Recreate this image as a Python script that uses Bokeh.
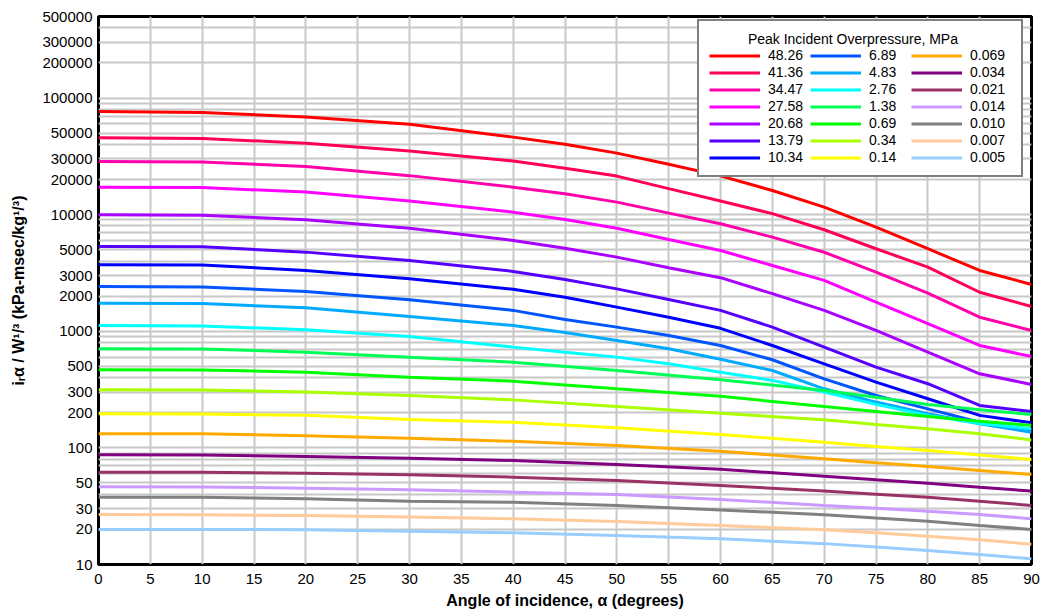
from bokeh.plotting import figure
from bokeh.models import Range1d, FixedTicker, NumeralTickFormatter, Legend, LegendItem
from bokeh.embed import file_html
from bokeh.resources import INLINE

# ---- data ----
angles_fine = [0, 10, 20, 30, 40, 45, 50, 55, 60, 65, 70, 75, 80, 85, 90]
angles = [0, 10, 20, 30, 40, 50, 60, 70, 75, 80, 85, 90]

p_48_26 = [76700, 75300, 68900, 59500, 46200, 40200, 33700, 27000, 21500, 16100, 11600, 7810, 5100, 3320, 2520]
p_41_36 = [45700, 44900, 41000, 35200, 28800, 25000, 21400, 16700, 13100, 10200, 7420, 5100, 3550, 2160, 1630]
p_34_47 = [28600, 28300, 25900, 21600, 17200, 15100, 12800, 10300, 8360, 6410, 4760, 3210, 2120, 1320, 1016]
p_27_58 = [17200, 17100, 15600, 13100, 10500, 9100, 7650, 6120, 4930, 3660, 2730, 1780, 1160, 755, 608]
p_20_68 = [9970, 9900, 9040, 7650, 6010, 5160, 4320, 3510, 2880, 2100, 1510, 1016, 662, 432, 350]
p_13_79 = [5340, 5300, 4770, 4040, 3260, 2780, 2310, 1870, 1510, 1085, 731, 492, 355, 231, 205]
p_10_34 = [3720, 3700, 3320, 2820, 2290, 1960, 1610, 1320, 1060, 755, 526, 366, 264, 190, 164]
p_6_89 = [2420, 2400, 2190, 1860, 1510, 1260, 1085, 920, 755, 570, 391, 281, 216, 166, 141]
p_4_83 = [1740, 1730, 1590, 1340, 1120, 977, 834, 707, 575, 461, 321, 247, 196, 161, 136]
p_2_76 = [1120, 1110, 1030, 902, 731, 662, 600, 526, 446, 379, 301, 236, 190, 162, 146]
p_1_38 = [707, 705, 662, 600, 543, 461, 384, 311, 272, 236, 212, 193]
p_0_69 = [468, 466, 446, 404, 373, 321, 277, 226, 205, 186, 169, 156]
p_0_34 = [315, 313, 301, 281, 258, 226, 198, 174, 159, 146, 132, 117]
p_0_14 = [196, 195, 190, 175, 166, 149, 130, 112, 103, 95, 87, 79.5]
p_0_069 = [132, 132, 127, 121, 114, 105, 93.7, 80.6, 74.5, 69.2, 64, 59.2]
p_0_034 = [87.3, 87, 84.3, 81.6, 78, 72.1, 65.6, 57.1, 53.2, 49.8, 46, 42.6]
p_0_021 = [61.9, 61.7, 60.7, 58.7, 56.1, 52.5, 47.6, 42.6, 40.1, 37.8, 34.9, 32.1]
p_0_014 = [46.4, 46.2, 45.1, 43.7, 41.7, 39.8, 36.1, 32.1, 30.4, 28.6, 26.8, 24.7]
p_0_010 = [37.8, 37.7, 36.6, 34.9, 34.1, 32.1, 29.4, 26.7, 25.0, 23.5, 21.6, 20.0]
p_0_007 = [26.8, 26.7, 26.3, 25.5, 24.7, 23.4, 21.6, 19.9, 18.7, 17.5, 16.3, 14.9]
p_0_005 = [20.0, 20.0, 19.9, 19.3, 18.7, 17.7, 16.6, 15.1, 14.1, 13.2, 12.2, 11.2]

labels = ["48.26", "41.36", "34.47", "27.58", "20.68", "13.79", "10.34",
          "6.89", "4.83", "2.76", "1.38", "0.69", "0.34", "0.14",
          "0.069", "0.034", "0.021", "0.014", "0.010", "0.007", "0.005"]
series = [p_48_26, p_41_36, p_34_47, p_27_58, p_20_68, p_13_79, p_10_34,
          p_6_89, p_4_83, p_2_76, p_1_38, p_0_69, p_0_34, p_0_14,
          p_0_069, p_0_034, p_0_021, p_0_014, p_0_010, p_0_007, p_0_005]
colors = ["#ff0000", "#ff0055", "#ff00aa", "#ff00ff", "#aa00ff", "#5500ff", "#0000ff",
          "#0055ff", "#00aaff", "#00ffff", "#00ff55", "#00ff00", "#aaff00", "#ffff00",
          "#ffaa00", "#800080", "#993366", "#cc99ff", "#808080", "#ffcc99", "#99ccff"]

x_ticks = [0, 5, 10, 15, 20, 25, 30, 35, 40, 45, 50, 55, 60, 65, 70, 75, 80, 85, 90]
y_ticks = [10, 20, 30, 50, 100, 200, 300, 500, 1000, 2000, 3000, 5000,
           10000, 20000, 30000, 50000, 100000, 200000, 300000, 500000]
y_grid = [10, 20, 30, 40, 50, 60, 70, 80, 90,
          100, 200, 300, 400, 500, 600, 700, 800, 900,
          1000, 2000, 3000, 4000, 5000, 6000, 7000, 8000, 9000,
          10000, 20000, 30000, 40000, 50000, 60000, 70000, 80000, 90000,
          100000, 200000, 300000, 400000, 500000]

FONT = "Liberation Sans"

p = figure(width=1042, height=614, output_backend="svg", toolbar_location=None,
           y_axis_type="log", x_range=Range1d(0, 90), y_range=Range1d(10, 500000),
           min_border_left=98, min_border_right=11, min_border_top=16, min_border_bottom=50)

p.background_fill_color = "white"
p.border_fill_color = "white"
p.outline_line_color = "black"
p.outline_line_width = 3

p.xaxis.ticker = FixedTicker(ticks=x_ticks, minor_ticks=[])
p.yaxis.ticker = FixedTicker(ticks=y_ticks, minor_ticks=[])
p.yaxis.formatter = NumeralTickFormatter(format="0")
p.xgrid.ticker = FixedTicker(ticks=x_ticks, minor_ticks=[])
p.ygrid.ticker = FixedTicker(ticks=y_grid, minor_ticks=[])

for g in (p.xgrid, p.ygrid):
    g.grid_line_color = "#c8c8c8"
    g.grid_line_width = 2

for ax in (p.xaxis, p.yaxis):
    ax.axis_line_color = None
    ax.major_tick_out = 0
    ax.major_tick_in = 0
    ax.minor_tick_out = 0
    ax.minor_tick_in = 0
    ax.major_label_text_font = FONT
    ax.major_label_text_font_size = "15px"
    ax.major_label_text_color = "black"
    ax.axis_label_text_font = FONT
    ax.axis_label_text_font_size = "16px"
    ax.axis_label_text_font_style = "bold"
    ax.axis_label_text_color = "black"

p.xaxis.axis_label = "Angle of incidence, α (degrees)"
p.xaxis.major_label_standoff = 9
p.xaxis.axis_label_standoff = 5
p.yaxis.axis_label = "iᵣα / W¹/³ (kPa-msec/kg¹/³)"
p.yaxis.major_label_standoff = 6
p.yaxis.axis_label_standoff = 12

items = []
for lab, ys, col in zip(labels, series, colors):
    xs = angles_fine if len(ys) == len(angles_fine) else angles
    r = p.line(xs, ys, line_color=col, line_width=3)
    items.append(LegendItem(label=lab, renderers=[r]))

legend = Legend(items=items, location=(599, 387), nrows=7, orientation="vertical",
                title="\u00a0" * 10 + "Peak Incident Overpressure, MPa",
                title_text_font=FONT, title_text_font_size="14px", title_text_font_style="normal",
                title_text_color="black", title_standoff=0,
                label_text_font=FONT, label_text_font_size="14px", label_text_color="black",
                glyph_width=51, glyph_height=15, label_height=15, label_width=41,
                label_standoff=8, spacing=1, padding=10, margin=0,
                border_line_color="black", border_line_width=2,
                background_fill_color="white", background_fill_alpha=1.0)
p.add_layout(legend)

open("out.html", "w").write(file_html(p, INLINE))
